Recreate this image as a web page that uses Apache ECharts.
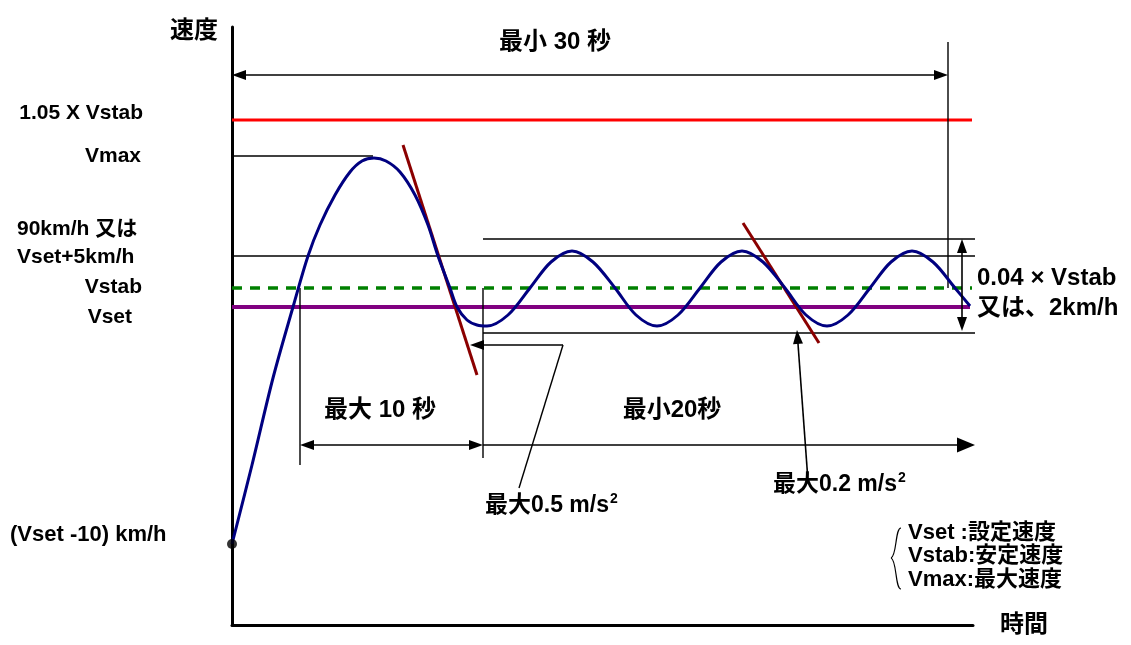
<!DOCTYPE html>
<html><head><meta charset="utf-8">
<script src="https://cdn.jsdelivr.net/npm/echarts@6/dist/echarts.min.js"></script>
<style>html,body{margin:0;padding:0;background:#fff}#c{width:1131px;height:645px}</style>
</head><body><div id="c"></div>
<script>
// ---- data (schematic units) ----
const curveT = [0,20,41,61,76,88,103,118,130,142,154,168,183,196,206,218,225,235,245,255,276,298,319,340,361,383,404,425,446,468,489,510,531,553,574,595,616,638,659,680,701,723,738];
const curveV = [81,160,247,318,369,400,430,453,464,467,464,453,430,400,369,337,318,305,300,299,310,337,363,374,363,337,310,299,310,337,363,374,363,337,310,299,310,337,363,374,363,337,319];
const levelValues = [505, 469, 369, 337, 318];   // 1.05xVstab, Vmax, 90km/h, Vstab, Vset
const bandValues = [386, 292];                  // upper / lower band of 0.04 x Vstab
const startValue = 81;                          // (Vset-10)
const timeMarks = [68, 251, 716, 743];          // start 10s, end 10s, end 30s, axis end
const tangent1 = [[171,480],[245,250]];
const tangent2 = [[511,402],[587,282]];
const leftLabels = ['1.05 X Vstab','Vmax','90km/h 又は','Vset+5km/h','Vstab','Vset','(Vset -10) km/h'];
const legendLines = ['Vset :設定速度','Vstab:安定速度','Vmax:最大速度'];

const FONT = '"Liberation Sans","Noto Sans CJK JP",sans-serif';
const chart = echarts.init(document.getElementById('c'), null, {renderer:'canvas'});

function seg(p0, p1, color, width, type) {
  return {type:'line', data:[p0,p1], showSymbol:false, clip:false, silent:true, animation:false,
    lineStyle:{color:color, width:width, type:type||'solid', cap:'butt'}, z:2};
}
const [vRed, vMax, v90, vStab, vSet] = levelValues;
const [t10a, t10b, t30, tEnd] = timeMarks;
const TH = 1.4;
const A = {symbol:'triangle', symbolSize:[10,14]};
function arrowEnd(coord) { return Object.assign({coord:coord}, A); }

const series = [
  seg([0,vRed],[740,vRed],'#ff0000',3),
  seg([0,vMax],[141,vMax],'#000',TH),
  seg([0,v90],[785,v90],'#000',TH),
  seg([t10b,bandValues[0]],[753,bandValues[0]],'#000',TH),
  seg([t10b,bandValues[1]],[753,bandValues[1]],'#000',TH),
  seg([0,vStab],[740,vStab],'#008000',3.5,[10,8]),
  seg([0,vSet],[738,vSet],'#800080',4),
  seg([t10a,vStab],[t10a,160],'#000',TH),
  seg([t10b,vStab],[t10b,167],'#000',TH),
  seg([t30,583],[t30,vStab],'#000',TH),
  seg([331,280],[287,137],'#000',TH),
  seg(tangent1[0],tangent1[1],'#8b0000',3),
  seg(tangent2[0],tangent2[1],'#8b0000',3),
  {
    type:'line', smooth:0.33, data:curveT.map((t,i)=>[t,curveV[i]]), showSymbol:false, clip:false,
    silent:true, animation:false, z:3, lineStyle:{color:'#000080', width:3},
    markLine:{
      silent:true, animation:false, symbol:['none','none'], label:{show:false},
      lineStyle:{color:'#000', width:1.6, type:'solid'},
      emphasis:{disabled:true},
      data:[
        [arrowEnd([7,550]), arrowEnd([t30-7,550])],
        [arrowEnd([t10a+7,180]), arrowEnd([t10b-7,180])],
        [{coord:[t10b,180], symbol:'none'},{coord:[tEnd-9,180], symbol:'triangle', symbolSize:[15,18]}],
        [arrowEnd([730,bandValues[0]-7]), arrowEnd([730,294+7])],
        [{coord:[331,280], symbol:'none'}, arrowEnd([245,280])],
        [{coord:[576,144], symbol:'none'}, arrowEnd([565.5,288])]
      ]
    }
  },
  {type:'scatter', data:[[0,startValue]], symbolSize:10, itemStyle:{color:'#000'}, clip:false, silent:true, animation:false, z:5}
];

const option = {
  animation:false,
  grid:{left:232, top:27, width:741, height:598, containLabel:false},
  xAxis:{type:'value', min:0, max:741, axisLine:{show:true, lineStyle:{color:'#000', width:3}}, axisTick:{show:false}, axisLabel:{show:false}, splitLine:{show:false},
    name:'時間', nameLocation:'end', nameGap:27, nameTextStyle:{fontSize:24, fontWeight:'bold', fontFamily:FONT, color:'#000', align:'left', verticalAlign:'middle', padding:[14,0,0,0]}},
  yAxis:{type:'value', min:0, max:598, axisLine:{show:true, lineStyle:{color:'#000', width:3}}, axisTick:{show:false}, axisLabel:{show:false}, splitLine:{show:false},
    name:'速度', nameLocation:'end', nameGap:-4, nameTextStyle:{fontSize:24, fontWeight:'bold', fontFamily:FONT, color:'#000', align:'right', verticalAlign:'middle', padding:[0,14,0,0]}},
  series:series
};
chart.setOption(option);

function txt(text, x, y, size, align, extra) {
  return {type:'text', silent:true, z:10, style:Object.assign({text:text, x:x, y:y, fill:'#000', fontSize:size, fontWeight:'bold', fontFamily:FONT, align:align||'left', verticalAlign:'middle'}, extra||{})};
}
const sup = {rich:{sup:{fontSize:14, fontWeight:'bold', fontFamily:FONT, verticalAlign:'top', padding:[0,0,14,1]}}};
chart.setOption({graphic:[
  txt(leftLabels[0], 143, 113, 21, 'right'),
  txt(leftLabels[1], 141, 156, 21, 'right'),
  txt(leftLabels[2], 17, 229, 21, 'left'),
  txt(leftLabels[3], 17, 257, 21, 'left'),
  txt(leftLabels[4], 142, 287, 21, 'right'),
  txt(leftLabels[5], 132, 317, 21, 'right'),
  txt(leftLabels[6], 10, 535, 22, 'left'),
  txt('最小 30 秒', 555, 42, 24, 'center'),
  txt('最大 10 秒', 380, 410, 24, 'center'),
  txt('最小20秒', 672, 410, 24, 'center'),
  txt('最大0.5 m/s{sup|2}', 485, 506, 23, 'left', sup),
  txt('最大0.2 m/s{sup|2}', 773, 485, 23, 'left', sup),
  txt('0.04 × Vstab', 977, 278, 24, 'left'),
  txt('又は、2km/h', 977, 308, 24, 'left'),
  txt(legendLines[0], 908, 533, 22, 'left'),
  txt(legendLines[1], 908, 556, 22, 'left'),
  txt(legendLines[2], 908, 580, 22, 'left'),
  {type:'bezierCurve', silent:true, shape:{x1:901,y1:528,cpx1:895,cpy1:528,cpx2:897,cpy2:556,x2:891,y2:558}, style:{stroke:'#000', lineWidth:1.2, fill:null}},
  {type:'bezierCurve', silent:true, shape:{x1:891,y1:558,cpx1:897,cpy1:560,cpx2:895,cpy2:589,x2:901,y2:589}, style:{stroke:'#000', lineWidth:1.2, fill:null}}
]});
</script></body></html>
